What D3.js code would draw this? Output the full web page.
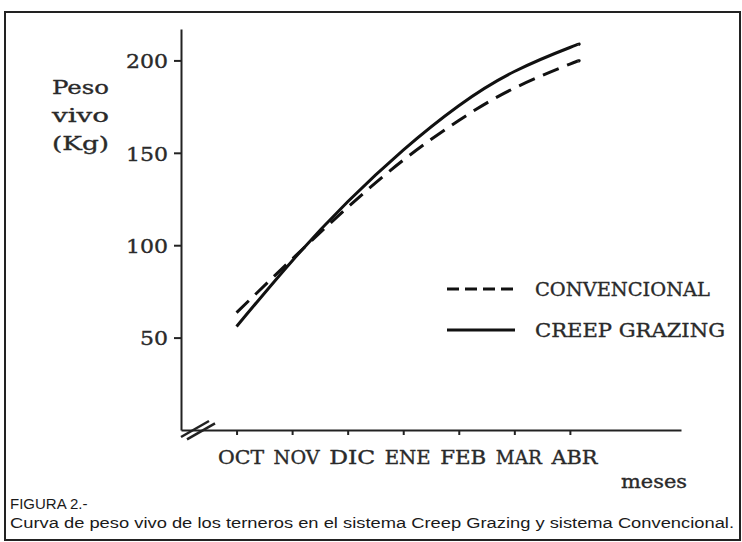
<!DOCTYPE html>
<html>
<head>
<meta charset="utf-8">
<script src="https://cdn.jsdelivr.net/npm/d3@7"></script>
<style>
  body { margin: 0; background: #fff; }
  svg { display: block; }
  .mono { font-family: "DejaVu Serif", "Liberation Serif", serif; fill: #2a2a2a; stroke: #2a2a2a; stroke-width: 0.35px; }
  .tick text { font-family: "DejaVu Serif", "Liberation Serif", serif; fill: #2a2a2a; stroke: #2a2a2a; stroke-width: 0.35px; }
</style>
</head>
<body>
<div id="chart"></div>
<script>
// meses y valores (peso vivo en Kg)
let months = ["OCT", "NOV", "DIC", "ENE", "FEB", "MAR", "ABR"];
let monthPos = [0, 1, 2, 3, 4, 5, 6, 6.15];
let convencional = [63.5, 92.5, 120.5, 146, 167.5, 185, 198, 199.5];
let creepGrazing = [56, 91.5, 123.5, 151.5, 175.5, 194, 207, 208.5];
let yTicks = [50, 100, 150, 200];
let yLabel = ["Peso", "vivo", "(Kg)"];

let W = 742, H = 542;

var svg = d3.select("#chart").append("svg")
    .attr("width", W)
    .attr("height", H);

// marco
svg.append("rect")
    .attr("x", 5).attr("y", 12)
    .attr("width", 735).attr("height", 528)
    .attr("fill", "none")
    .attr("stroke", "#222")
    .attr("stroke-width", 2);

var x = d3.scaleLinear().domain([-1, 8]).range([181, 681]);
var y = d3.scaleLinear().domain([0, 217]).range([430, 29]);

// eje y
var yAxis = svg.append("g")
    .attr("transform", "translate(" + x(-1) + ",0)")
    .call(d3.axisLeft(y).tickValues(yTicks).tickSize(7).tickSizeOuter(0).tickPadding(6));
yAxis.select(".domain").attr("stroke", "#222").attr("stroke-width", 2);
yAxis.selectAll(".tick line").attr("stroke", "#222").attr("stroke-width", 2);
yAxis.selectAll(".tick text")
    .style("font-size", "19px")
    .attr("textLength", function(d) { return d < 100 ? 28 : 42; })
    .attr("lengthAdjust", "spacingAndGlyphs")
    .attr("dy", "0.38em");

// eje x
var xAxis = svg.append("g")
    .attr("transform", "translate(0," + y(0) + ")")
    .call(d3.axisBottom(x).tickValues(d3.range(months.length))
        .tickFormat(function(d) { return months[d]; })
        .tickSize(5).tickSizeOuter(0).tickPadding(10));
xAxis.select(".domain").attr("stroke", "#222").attr("stroke-width", 2);
xAxis.selectAll(".tick line").attr("stroke", "#222").attr("stroke-width", 2);
xAxis.selectAll(".tick text")
    .style("font-size", "18px")
    .attr("textLength", 46)
    .attr("lengthAdjust", "spacingAndGlyphs")
    .attr("dx", 4)
    .attr("dy", "1.05em");

// marca de corte en el origen
var x0 = x(-1), y0 = y(0);
[0, 6].forEach(function(o) {
    svg.append("line")
        .attr("x1", x0 + o).attr("y1", y0 + 7 + o * 0.4)
        .attr("x2", x0 + 28 + o).attr("y2", y0 - 9 + o * 0.4)
        .attr("stroke", "#222").attr("stroke-width", 2.5);
});

// titulo eje y
svg.append("g").selectAll("text")
    .data(yLabel)
    .enter().append("text")
        .attr("class", "mono")
        .attr("x", 52)
        .attr("y", function(d, i) { return 94 + i * 28; })
        .style("font-size", "19px")
        .attr("textLength", 57)
        .attr("lengthAdjust", "spacingAndGlyphs")
        .text(function(d) { return d; });

// curvas
var line = d3.line()
    .x(function(d, i) { return x(monthPos[i]); })
    .y(function(d) { return y(d); })
    .curve(d3.curveNatural);

svg.append("path")
    .datum(convencional)
    .attr("d", line)
    .attr("fill", "none")
    .attr("stroke", "#111")
    .attr("stroke-width", 3)
    .attr("stroke-dasharray", "17,9");

svg.append("path")
    .datum(creepGrazing)
    .attr("d", line)
    .attr("fill", "none")
    .attr("stroke", "#111")
    .attr("stroke-width", 3);

// leyenda
var legend = svg.append("g").attr("transform", "translate(447,289)");
var items = [
    { name: "CONVENCIONAL", dash: "12,6", w: 175 },
    { name: "CREEP GRAZING", dash: null, w: 190 }
];
items.forEach(function(it, i) {
    var g = legend.append("g").attr("transform", "translate(0," + i * 41 + ")");
    g.append("line")
        .attr("x1", 0).attr("x2", 68)
        .attr("y1", 0).attr("y2", 0)
        .attr("stroke", "#111").attr("stroke-width", 3)
        .attr("stroke-dasharray", it.dash);
    g.append("text")
        .attr("class", "mono")
        .attr("x", 88).attr("y", 7)
        .style("font-size", "19px")
        .attr("textLength", it.w)
        .attr("lengthAdjust", "spacingAndGlyphs")
        .text(it.name);
});

// titulo eje x
svg.append("text")
    .attr("class", "mono")
    .attr("x", 621).attr("y", 488)
    .style("font-size", "18px")
    .attr("textLength", 66)
    .attr("lengthAdjust", "spacingAndGlyphs")
    .text("meses");

// pie de figura
svg.append("text")
    .attr("x", 10).attr("y", 509)
    .style("font-family", "Arial, 'Liberation Sans', sans-serif")
    .style("font-size", "15px")
    .attr("fill", "#1a1a1a")
    .text("FIGURA 2.-");

svg.append("text")
    .attr("x", 10).attr("y", 528)
    .style("font-family", "Arial, 'Liberation Sans', sans-serif")
    .style("font-size", "14px")
    .attr("fill", "#1a1a1a")
    .attr("textLength", 724)
    .attr("lengthAdjust", "spacingAndGlyphs")
    .text("Curva de peso vivo de los terneros en el sistema Creep Grazing y sistema Convencional.");
</script>
</body>
</html>
